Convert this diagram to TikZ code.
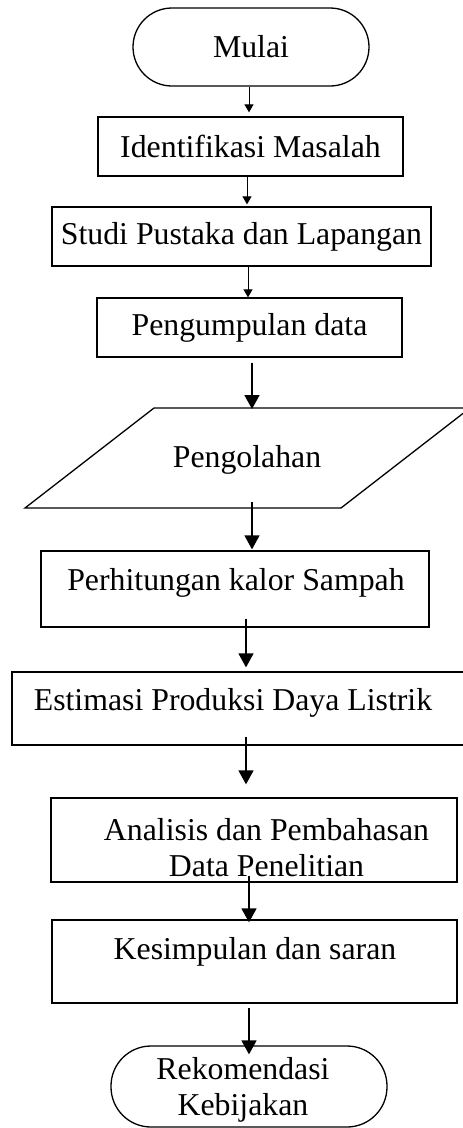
\documentclass[tikz,border=0pt]{standalone}
\usepackage{fontspec}
\setmainfont{Liberation Serif}
\usetikzlibrary{arrows.meta}
\begin{document}
\begin{tikzpicture}[x=1pt,y=-1pt,
  txt/.style={font=\fontsize{31.8}{36}\selectfont, inner sep=0pt, align=center},
  box/.style={draw, line width=1.3pt, inner sep=0pt, font=\fontsize{31.8}{36}\selectfont, align=center},
  term/.style={box, rounded corners=#1},
  arrs/.style={line width=1pt, -{Triangle[width=9pt,length=8pt]}},
  arrb/.style={line width=1.6pt, -{Triangle[width=15pt,length=14pt]}}]
\useasboundingbox (0,0) rectangle (463,1128);
\clip (0,0) rectangle (463,1128);
\fill[white] (0,0) rectangle (463,1128);

% nodes
\node[term=39pt, minimum width=236pt, minimum height=78pt] (mulai) at (251,47) {Mulai};
\node[box, minimum width=305pt, minimum height=59pt] (ident) at (250.5,146.5) {Identifikasi Masalah};
\node[box, minimum width=379pt, minimum height=59pt] (studi) at (241.5,236.5) {Studi Pustaka dan Lapangan};
\node[box, minimum width=305pt, minimum height=59pt] (kumpul) at (249.5,327.5) {Pengumpulan data};

% parallelogram
\coordinate (pa) at (25,508);
\coordinate (pb) at (341,508);
\coordinate (pc) at (470,408);
\coordinate (pd) at (154,408);
\draw[line width=1.3pt, line join=miter] (pa) -- (pb) -- (pc) -- (pd) -- cycle;
\node[txt] (olah) at (247,460) {Pengolahan};
\coordinate (olahin) at (252,409);
\coordinate (olahout) at (252,502);

\node[box, minimum width=388pt, minimum height=76pt] (hitung) at (235,589) {};
\node[txt] (hitungT) at (236,583) {Perhitungan kalor Sampah};

\node[box, minimum width=458pt, minimum height=73pt] (est) at (241,708.5) {};
\node[txt] (estT) at (233,703) {Estimasi Produksi Daya Listrik};

\node[box, minimum width=406pt, minimum height=84pt] (anal) at (254,840) {};
\node[txt] (analT) at (266.5,848) {Analisis dan Pembahasan\\Data Penelitian};

\node[box, minimum width=405pt, minimum height=83pt] (kes) at (254.5,961.5) {};
\node[txt] (kesT) at (255,952) {Kesimpulan dan saran};

\node[term=40pt, minimum width=276pt, minimum height=81pt] (rek) at (249,1086.5) {};
\node[txt] (rekT) at (243,1090) {Rekomendasi\\Kebijakan};

% connectors
\draw[arrs] ([xshift=-2pt]mulai.south) -- ([xshift=-1.5pt,yshift=4pt]ident.north);
\draw[arrs] ([xshift=-3.5pt]ident.south) -- ([xshift=5.5pt,yshift=2pt]studi.north);
\draw[arrs] ([xshift=6.5pt]studi.south) -- ([xshift=-1.5pt]kumpul.north);
\draw[arrb] ([xshift=2.5pt,yshift=-5pt]kumpul.south) -- (olahin);
\draw[arrb] (olahout) -- ([xshift=17pt,yshift=1pt]hitung.north);
\draw[arrb] ([xshift=11pt,yshift=9pt]hitung.south) -- ([xshift=5pt,yshift=4pt]est.north);
\draw[arrb] ([xshift=5pt,yshift=9pt]est.south) -- ([xshift=-8pt,yshift=13pt]anal.north);
\draw[arrb] ([xshift=-5pt,yshift=7pt]anal.south) -- ([xshift=-5.5pt,yshift=-3pt]kes.north);
\draw[arrb] ([xshift=-5.5pt,yshift=-4pt]kes.south) -- ([yshift=-9pt]rek.north);
\end{tikzpicture}
\end{document}
